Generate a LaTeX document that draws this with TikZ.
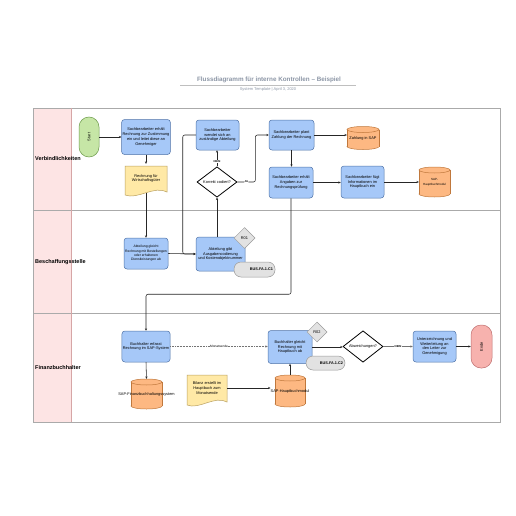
\documentclass[tikz,border=0pt]{standalone}
\usepackage{fontspec}
\setmainfont{Liberation Sans}
\usetikzlibrary{arrows.meta,shapes.geometric}
\definecolor{boxfill}{HTML}{A6C8F8}
\definecolor{boxline}{HTML}{4F73A8}
\definecolor{cylfill}{HTML}{FDB882}
\definecolor{cylline}{HTML}{C0783C}
\definecolor{docfill}{HTML}{FFE9A6}
\definecolor{docline}{HTML}{B9A060}
\definecolor{startfill}{HTML}{C6E6A6}
\definecolor{startline}{HTML}{6E9C4C}
\definecolor{endfill}{HTML}{F7B2AE}
\definecolor{endline}{HTML}{C07070}
\definecolor{lanefill}{HTML}{FDE4E4}
\definecolor{laneline}{HTML}{D6A6A6}
\definecolor{frameline}{HTML}{AAAAAA}
\definecolor{tagfill}{HTML}{E2E2E2}
\definecolor{tagline}{HTML}{9A9A9A}
\definecolor{titlecol}{HTML}{8C96A6}
\newcommand\mycyl[7]{%
  \filldraw[fill=cylfill,draw=cylline,line width=0.5pt] (#2,{#3+#5/2-3}) ellipse ({#4/2} and 3);
  \fill[cylfill] ({#2-#4/2},{#3-#5/2+3}) rectangle ({#2+#4/2},{#3+#5/2-3});
  \draw[cylline,line width=0.5pt] ({#2-#4/2},{#3-#5/2+3}) -- ({#2-#4/2},{#3+#5/2-3})
     ({#2+#4/2},{#3-#5/2+3}) -- ({#2+#4/2},{#3+#5/2-3});
  \filldraw[fill=cylfill,draw=cylline,line width=0.5pt] (#2,{#3-#5/2+3}) ellipse ({#4/2} and 3);
  \node[inner sep=0pt,minimum width=#4,minimum height=#5,#7] (#1) at (#2,#3) {#6};
}
\newcommand\mydoc[6]{%
  \filldraw[fill=docfill,draw=docline,line width=0.5pt]
    ({#2-#4/2},{#3-#5/2}) -- ({#2+#4/2},{#3-#5/2}) -- ({#2+#4/2},{#3+#5/2-3})
    .. controls ({#2+#4*0.2},{#3+#5/2-10}) and ({#2-#4*0.2},{#3+#5/2+5}) .. ({#2-#4/2},{#3+#5/2}) -- cycle;
  \node[inner sep=0pt,minimum width=#4,minimum height=#5] (#1) at (#2,{#3-2}) {#6};
}
\tikzset{
  every node/.style={font=\fontsize{3.9}{4.9}\selectfont,align=center},
  procbox/.style={draw=boxline,fill=boxfill,rounded corners=3pt,line width=0.5pt,inner sep=1pt},
  decbox/.style={diamond,draw=black,fill=white,line width=0.8pt,inner sep=0pt},
  tagdia/.style={diamond,draw=tagline,fill=tagfill,line width=0.5pt,inner sep=0pt,minimum width=21,minimum height=21},
  tagrnd/.style={draw=tagline,fill=tagfill,line width=0.5pt,rounded corners=7pt,inner sep=1pt,font=\bfseries\fontsize{3.8}{4.8}\selectfont},
  conn/.style={draw=black!85,line width=0.55pt,-{Stealth[length=2.4pt,width=2.2pt]}},
  lbl/.style={fill=white,inner sep=0.4pt,font=\bfseries\fontsize{2.8}{3}\selectfont},
  lanelbl/.style={anchor=west,inner sep=0pt,font=\bfseries\fontsize{5.5}{6}\selectfont},
}
\begin{document}
\begin{tikzpicture}[x=1pt,y=-1pt]
\useasboundingbox (0,0) rectangle (516,516);
\fill[white] (0,0) rectangle (516,516);
% title
\node[font=\bfseries\fontsize{6.3}{7}\selectfont,text=titlecol] (title) at (269,80) {Flussdiagramm für interne Kontrollen – Beispiel};
\draw[black!25,line width=0.5pt] (180,85.5) -- (356,85.5);
\node[font=\fontsize{4}{4.5}\selectfont,text=titlecol] (subtitle) at (268,89.5) {System Template \textbar\ April 3, 2020};
% lanes
\fill[lanefill] (33,108) rectangle (71,422);
\draw[frameline,line width=0.6pt] (33,108) rectangle (500,422);
\draw[frameline,line width=0.6pt] (33,210.5) -- (500,210.5) (33,313) -- (500,313);
\draw[laneline,line width=0.6pt] (71,108) -- (71,422);
\node[lanelbl] (lane1) at (35,159) {Verbindlichkeiten};
\node[lanelbl] (lane2) at (35,262) {Beschaffungsstelle};
\node[lanelbl] (lane3) at (35,368) {Finanzbuchhalter};
% lane 1
\node[draw=startline,fill=startfill,rounded corners=10pt,line width=0.5pt,minimum width=20,minimum height=40,inner sep=0pt] (start) at (89,137) {\rotatebox{90}{Start}};
\node[procbox,minimum width=44,minimum height=35] (box1) at (146,137) {Sachbearbeiter erhält\\Rechnung zur Zustimmung\\ein und leitet diese an\\Genehmiger};
\mydoc{doc1}{146}{180.5}{42}{29}{Rechnung für\\Wirtschaftsgüter}
\node[procbox,minimum width=43,minimum height=30] (wendet) at (217.5,135) {Sachbearbeiter\\wendet sich an\\zuständige Abteilung};
\node[decbox,minimum width=40,minimum height=30] (dia1) at (217,182) {Korrekt codiert?};
\node[procbox,minimum width=45,minimum height=30] (plant) at (291.5,135) {Sachbearbeiter plant\\Zahlung der Rechnung};
\mycyl{zahlung}{363}{138}{32}{23}{\raisebox{-2pt}{Zahlung in SAP}}{}
\node[procbox,minimum width=44,minimum height=31] (angaben) at (291,182.5) {Sachbearbeiter erhält\\Angaben zur\\Rechnungsprüfung};
\node[procbox,minimum width=43,minimum height=32] (fuegt) at (362.5,182) {Sachbearbeiter fügt\\Informationen im\\Hauptbuch ein};
\mycyl{hbone}{434.5}{182}{31}{30}{\raisebox{-2pt}{\shortstack{SAP-\\Hauptbuchmodul}}}{font=\fontsize{3}{3.6}\selectfont}
% lane 2
\node[procbox,minimum width=44,minimum height=31,font=\fontsize{3.4}{4.4}\selectfont] (gleicht) at (146,253.5) {Abteilung gleicht\\Rechnung mit Bestellungen\\oder erhaltenen\\Dienstleistungen ab};
\node[procbox,minimum width=49,minimum height=34] (code) at (220.5,254) {Abteilung gibt\\Ausgabencodierung\\und Kostenobjektnummer};
\node[tagdia] (rone) at (244.5,238) {R01};
\node[tagrnd,minimum width=41,minimum height=15,text width=37,align=right] (busone) at (254.5,269.5) {BUS.FA.1.C1};
% lane 3
\node[procbox,minimum width=44,minimum height=31] (buchh) at (146,346.5) {Buchhalter erfasst\\Rechnung im SAP-System};
\mycyl{finsys}{146.5}{394}{31}{30}{\raisebox{-2pt}{SAP-Finanzbuchhaltungssystem}}{}
\mydoc{bilanz}{207}{390}{40}{30}{Bilanz erstellt im\\Hauptbuch zum\\Monatsende}
\node[procbox,minimum width=44,minimum height=33] (abgleich) at (290,347) {Buchhalter gleicht\\Rechnung mit\\Hauptbuch ab};
\node[tagdia,minimum width=20,minimum height=20] (rtwo) at (317,332) {R02};
\node[tagrnd,minimum width=39,minimum height=14,text width=35,align=right] (bustwo) at (325.5,363) {BUS.FA.1.C2};
\node[decbox,minimum width=40,minimum height=31] (dia2) at (363,346.5) {Abweichungen?};
\node[procbox,minimum width=43,minimum height=31] (unter) at (434.5,346.5) {Unterzeichnung und\\Weiterleitung an\\den Leiter zur\\Genehmigung};
\node[draw=endline,fill=endfill,rounded corners=10pt,line width=0.5pt,minimum width=21,minimum height=43,inner sep=0pt] (ende) at (481.5,346.5) {\rotatebox{90}{Ende}};
\mycyl{hbtwo}{290}{391}{30}{32}{\raisebox{-2pt}{SAP-Hauptbuchmodul}}{}
% connectors
\draw[conn] (start.east) -- (box1.west);
\draw[conn] (box1.south) -- (doc1.north);
\draw[conn] (doc1.south) -- (gleicht.north);
\draw[conn] (gleicht.east) -- (code.west);
\draw[conn,rounded corners=2pt] (wendet.west) -- ++(-13,0) |- (code.west);
\draw[conn] (dia1.south |- code.north) -- (dia1.south);
\draw[conn] (dia1.north) -- node[lbl,pos=0.3]{NEIN} (dia1.north |- wendet.south);
\draw[conn,rounded corners=2pt] (dia1.east) -- node[lbl]{JA} ++(18,0) |- (plant.west);
\draw[conn] (plant.east) -- (plant.east -| zahlung.west);
\draw[conn] (plant.south) -- (plant.south |- angaben.north);
\draw[conn] (angaben.east) -- (angaben.east -| fuegt.west);
\draw[conn] (fuegt.east) -- (fuegt.east -| hbone.west);
\draw[conn,rounded corners=2pt] (angaben.south) -- ++(0,96) -| (buchh.north);
\draw[conn,draw=black!55,densely dotted] (buchh.east) -- node[fill=white,inner sep=0.5pt,font=\fontsize{3.2}{3.5}\selectfont]{Monatsende} (buchh.east -| abgleich.west);
\draw[conn] (buchh.south) -- (finsys.north);
\draw[conn] (bilanz.east) -- (bilanz.east -| hbtwo.west);
\draw[conn] (hbtwo.north) -- (abgleich.south);
\draw[conn] (abgleich.east) -- (abgleich.east -| dia2.west);
\draw[conn,draw=black!55] (dia2.east) -- node[lbl]{NEIN} (unter.west);
\draw[conn] (unter.east) -- (ende.west);
\end{tikzpicture}
\end{document}
